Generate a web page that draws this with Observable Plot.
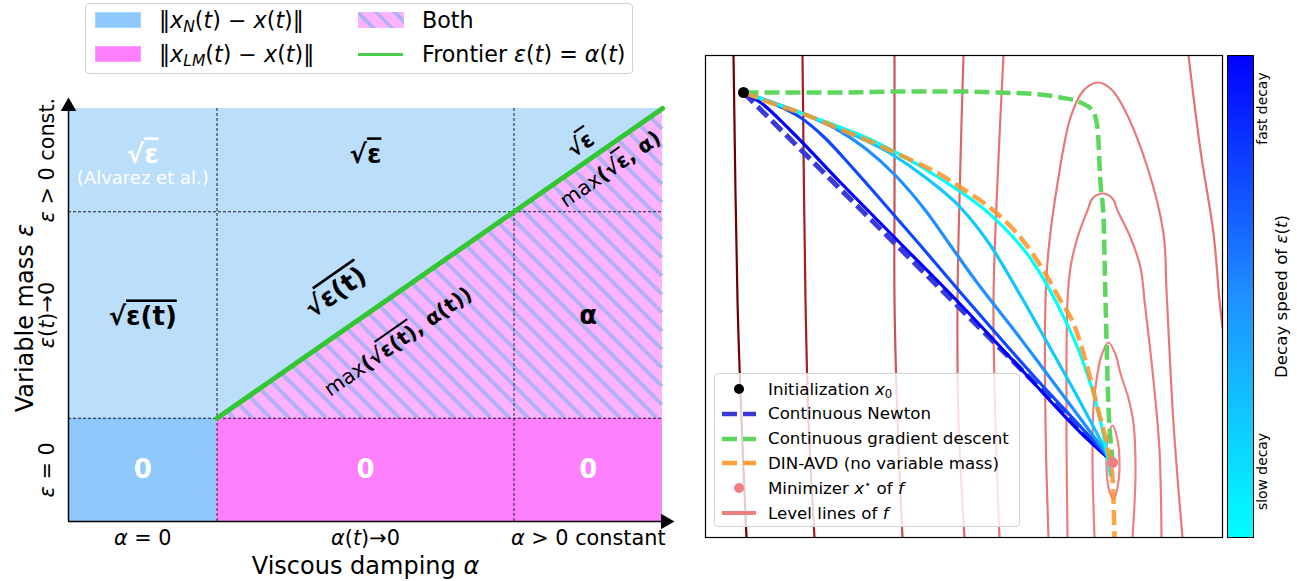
<!DOCTYPE html>
<html><head><meta charset="utf-8">
<script src="https://cdn.jsdelivr.net/npm/d3@7"></script>
<script src="https://cdn.jsdelivr.net/npm/@observablehq/plot@0.6"></script>
<style>
body{margin:0;background:#fff;font-family:"DejaVu Sans",sans-serif;}
#wrap{position:relative;width:1297px;height:581px;overflow:hidden;background:#fff;}
.abs{position:absolute;}
.leg{position:absolute;border:1px solid #d4d4d4;border-radius:4px;box-sizing:border-box;}
.row{position:absolute;display:flex;align-items:center;white-space:nowrap;color:#000;}
sub{font-size:70%;vertical-align:-0.28em;line-height:0;}
sup{font-size:70%;vertical-align:0.5em;line-height:0;}
</style></head>
<body>
<div id="wrap"></div>
<script>
// ================= LEFT PANEL DATA =================
const alphaBreaks = [0, 1, 3, 4];
const epsBreaks = [0, 1, 3, 4];
const alphaTickLabels = ["$α$ = 0", "$α$($t$)→0", "$α$ > 0 constant"];
const epsTickLabels = ["$ε$ = 0", "$ε$($t$)→0", "$ε$ > 0 const."];
const regions = [
  {name: "newton", a1: 0, a2: 4, e1: 1, e2: 4},
  {name: "newtonZero", a1: 0, a2: 1, e1: 0, e2: 1},
  {name: "lmZero", a1: 1, a2: 4, e1: 0, e2: 1}
];
const bothRegion = [{alpha: 1, lo: 1, hi: 1}, {alpha: 4, lo: 1, hi: 4}];
const frontier = [{alpha: 1, eps: 1}, {alpha: 4, eps: 4}];
const cellText = [
  {alpha: 0.5, eps: 0.5, text: "0", kind: "white"},
  {alpha: 2.0, eps: 0.5, text: "0", kind: "white"},
  {alpha: 3.5, eps: 0.5, text: "0", kind: "white"},
  {alpha: 0.5, eps: 3.55, text: "√{ε}", kind: "white"},
  {alpha: 0.5, eps: 3.32, text: "(Alvarez et al.)", kind: "note"},
  {alpha: 2.0, eps: 3.55, text: "√{ε}", kind: "black"},
  {alpha: 0.5, eps: 1.98, text: "√{ε(t)}", kind: "black"},
  {alpha: 3.5, eps: 1.99, text: "α", kind: "black"}
];
const diagText = [
  {alpha: 1.80, eps: 2.22, text: "√{ε(t)}", kind: "big"},
  {alpha: 2.22, eps: 1.74, text: "max*(√{ε(t)}, α(t))*", kind: "max"},
  {alpha: 3.45, eps: 3.65, text: "√{ε}", kind: "small"},
  {alpha: 3.65, eps: 3.41, text: "max*(√{ε}, α)*", kind: "max"}
];
const axisArrows = [{alpha: 0, eps: 4.02, dir: "up"}, {alpha: 4.02, eps: 0, dir: "right"}];

// ================= RIGHT PANEL DATA =================
const init = [[0.38, 4.45]];
const minimizer = [[4.07, 0.75]];
const levelLines = [
  [[4.07,1.12],[4.115,1.00],[4.14,0.75],[4.12,0.50],[4.08,0.38],[4.03,0.50],[4.01,0.75],[4.025,1.00]],
  [[3.89,0],[3.87,0.77],[3.88,1.30],[3.92,1.64],[3.96,1.82],[4.03,1.95],[4.10,1.83],[4.15,1.64],[4.23,1.39],[4.28,1.14],[4.30,0.64],[4.27,0]],
  [[3.62,0],[3.61,0.97],[3.61,1.77],[3.62,2.37],[3.65,2.70],[3.72,3.00],[3.82,3.27],[3.87,3.39],[3.97,3.44],[4.07,3.39],[4.12,3.27],[4.25,3.00],[4.35,2.70],[4.39,2.37],[4.48,1.57],[4.54,0.87],[4.56,0]],
  [[3.43,0],[3.40,1.14],[3.40,2.37],[3.43,2.87],[3.52,3.54],[3.65,4.20],[3.78,4.47],[3.92,4.55],[4.05,4.49],[4.18,4.30],[4.42,3.70],[4.58,3.04],[4.61,2.47],[4.68,1.14],[4.77,0]],
  [[2.98,4.82],[2.92,3.57],[2.88,2.37],[2.90,1.14],[2.94,0]],
  [[4.83,4.82],[4.95,3.87],[5.08,3.04],[5.14,2.37],[5.17,2.10]],
  [[2.58,4.82],[2.55,3.77],[2.52,2.37],[2.53,1.17],[2.59,0]],
  [[1.89,4.82],[1.89,3.37],[1.89,2.37],[1.92,1.17],[1.97,0]],
  [[0.97,4.82],[1.00,2.37],[1.03,1.17],[1.09,0]],
  [[0.28,4.82],[0.32,2.37],[0.36,1.17],[0.41,0]]
];
const newtonPath = [[0.38,4.45],[4.03,0.81]];
const gradientPath = [[0.38,4.45],[0.85,4.45],[1.33,4.45],[1.95,4.46],[2.60,4.46],[2.88,4.45],[3.22,4.44],[3.55,4.40],[3.75,4.35],[3.87,4.27],[3.92,4.10],[3.95,3.54],[3.98,3.20],[4.00,2.37],[4.03,1.30],[4.06,0.87],[4.07,0.77]];
const dinAvdPath = [[0.38,4.45],[0.67,4.34],[0.97,4.24],[1.33,4.09],[1.67,3.95],[2.00,3.80],[2.33,3.64],[2.55,3.50],[2.88,3.27],[3.15,3.00],[3.38,2.67],[3.55,2.37],[3.68,2.14],[3.82,1.70],[3.92,1.30],[4.02,0.90],[4.07,0.60],[4.09,0]];
const decaySpeeds = [1, 0.75, 0.5, 0.25, 0];
const massPaths = [
  [[0.38,4.45],[0.55,4.35],[0.85,4.07],[1.35,3.55],[1.95,2.94],[2.55,2.33],[3.15,1.69],[3.75,1.05],[4.03,0.79]],
  [[0.38,4.45],[0.70,4.33],[0.95,4.20],[1.20,3.99],[1.45,3.72],[1.75,3.38],[2.15,2.92],[2.55,2.45],[2.95,1.99],[3.35,1.54],[3.75,1.11],[4.03,0.80]],
  [[0.38,4.45],[0.97,4.24],[1.30,4.09],[1.60,3.89],[1.90,3.62],[2.20,3.27],[2.45,2.92],[2.70,2.57],[3.05,2.12],[3.45,1.59],[3.80,1.12],[4.03,0.81]],
  [[0.38,4.45],[0.97,4.24],[1.45,4.04],[1.85,3.84],[2.20,3.60],[2.55,3.30],[2.85,2.92],[3.15,2.42],[3.45,1.89],[3.75,1.35],[4.03,0.82]],
  [[0.38,4.45],[0.97,4.24],[1.67,3.97],[2.33,3.60],[2.88,3.20],[3.25,2.79],[3.55,2.27],[3.77,1.77],[3.92,1.29],[4.00,0.92],[4.05,0.62]]
];
const colorbarLabels = [{pos: 0.89, text: "fast decay"}, {pos: 0.137, text: "slow decay"}];

// ================= STYLES =================
const FONT = "DejaVu Sans";
const NS = "http://www.w3.org/2000/svg";
const regionColor = {newton: "#bbdefb", newtonZero: "#8fc8fa", lmZero: "#ff80ff"};
const bothColor = "#ffb3ff";
const hatchColor = "#b3b1f5";
const levelColors = ["#ee8585","#ec8080","#ea7c7c","#e87878","#e57373","#e57373","#dc6666","#c95252","#a21f1f","#700000"];
const decayColor = {type: "linear", domain: [0, 0.5, 1], range: ["#00ffff", "#1e90ff", "#0000ff"]};
const ROT = -34.8;

// rich text: * bold toggle, $ italic toggle, { } overline
function richify(svg) {
  d3.select(svg).selectAll("text").each(function() {
    const el = this, s = el.textContent;
    if (!/[*${}]/.test(s)) return;
    while (el.firstChild) el.removeChild(el.firstChild);
    let bold = false, ital = false, over = false, buf = "";
    const flush = () => {
      if (!buf) return;
      const t = document.createElementNS(NS, "tspan");
      if (bold) t.setAttribute("font-weight", "bold");
      if (ital) t.setAttribute("font-style", "italic");
      if (over) t.setAttribute("text-decoration", "overline");
      t.textContent = buf; el.appendChild(t); buf = "";
    };
    for (const c of s) {
      if (c === "*") { flush(); bold = !bold; }
      else if (c === "$") { flush(); ital = !ital; }
      else if (c === "{") { flush(); over = true; }
      else if (c === "}") { flush(); over = false; }
      else buf += c;
    }
    flush();
  });
}

// custom Plot mark: diagonal hatch texture inside a region given by the library's scales
function hatchMark(region, spacing, color, width) {
  return (index, scales) => {
    const poly = [
      ...region.map(d => [scales.x(d.alpha), scales.y(d.lo)]),
      ...region.slice().reverse().map(d => [scales.x(d.alpha), scales.y(d.hi)])
    ];
    const g = document.createElementNS(NS, "g");
    g.setAttribute("stroke", color); g.setAttribute("stroke-width", width);
    const cs = poly.map(([px, py]) => py - px);
    const step = spacing * Math.SQRT2;
    const cmin = Math.min(...cs), cmax = Math.max(...cs);
    for (let c = Math.ceil(cmin / step) * step; c <= cmax; c += step) {
      const hits = [];
      for (let i = 0; i < poly.length; i++) {
        const p = poly[i], q = poly[(i + 1) % poly.length];
        const fp = p[1] - p[0] - c, fq = q[1] - q[0] - c;
        if (fp === fq) continue;
        if ((fp <= 0 && fq >= 0) || (fp >= 0 && fq <= 0)) {
          const s = fp / (fp - fq);
          hits.push([p[0] + s * (q[0] - p[0]), p[1] + s * (q[1] - p[1])]);
        }
      }
      if (hits.length < 2) continue;
      hits.sort((a, b) => a[0] - b[0]);
      const a = hits[0], b = hits[hits.length - 1];
      if (Math.hypot(b[0] - a[0], b[1] - a[1]) < 1) continue;
      const l = document.createElementNS(NS, "line");
      l.setAttribute("x1", a[0]); l.setAttribute("y1", a[1]);
      l.setAttribute("x2", b[0]); l.setAttribute("y2", b[1]);
      g.appendChild(l);
    }
    return g;
  };
}

const wrap = document.getElementById("wrap");
function place(el, left, top) {
  const d = document.createElement("div");
  d.className = "abs"; d.style.left = left + "px"; d.style.top = top + "px";
  d.appendChild(el); wrap.appendChild(d); return d;
}

// ================= LEFT PLOT =================
const mids = b => b.slice(0, -1).map((v, i) => (v + b[i + 1]) / 2);
const alphaTicks = mids(alphaBreaks).map((v, i) => ({v, label: alphaTickLabels[i]}));
const epsTicks = mids(epsBreaks).map((v, i) => ({v, label: epsTickLabels[i]}));
const inner = b => b.slice(1, -1);

const left = Plot.plot({
  width: 690, height: 581,
  marginLeft: 68, marginRight: 28, marginTop: 108, marginBottom: 60,
  x: {domain: [0, 4], axis: null},
  y: {domain: [0, 4], axis: null},
  style: {fontFamily: FONT, background: "transparent", overflow: "visible", color: "#000"},
  marks: [
    Plot.rect(regions.filter(r => r.name === "newton"), {x1: "a1", x2: "a2", y1: "e1", y2: "e2", fill: regionColor.newton}),
    Plot.areaY(bothRegion, {x: "alpha", y1: "lo", y2: "hi", fill: bothColor}),
    hatchMark(bothRegion, 13, hatchColor, 4),
    Plot.rect(regions.filter(r => r.name === "newtonZero"), {x1: "a1", x2: "a2", y1: "e1", y2: "e2", fill: regionColor.newtonZero}),
    Plot.rect(regions.filter(r => r.name === "lmZero"), {x1: "a1", x2: "a2", y1: "e1", y2: "e2", fill: regionColor.lmZero}),
    Plot.ruleX(inner(alphaBreaks), {y1: 0, y2: 4, stroke: "#1c1c34", strokeWidth: 1, strokeDasharray: "3,2"}),
    Plot.ruleY(inner(epsBreaks), {x1: 0, x2: 4, stroke: "#1c1c34", strokeWidth: 1, strokeDasharray: "3,2"}),
    Plot.line(frontier, {x: "alpha", y: "eps", stroke: "#33c633", strokeWidth: 5}),
    Plot.text(cellText.filter(d => d.kind === "white"), {x: "alpha", y: "eps", text: "text", fill: "#fff", fontSize: 26, fontWeight: "bold"}),
    Plot.text(cellText.filter(d => d.kind === "note"), {x: "alpha", y: "eps", text: "text", fill: "#fff", fontSize: 18}),
    Plot.text(cellText.filter(d => d.kind === "black"), {x: "alpha", y: "eps", text: "text", fill: "#000", fontSize: 26, fontWeight: "bold"}),
    Plot.text(diagText.filter(d => d.kind === "big"), {x: "alpha", y: "eps", text: "text", rotate: ROT, fontSize: 26, fontWeight: "bold"}),
    Plot.text(diagText.filter(d => d.kind === "small"), {x: "alpha", y: "eps", text: "text", rotate: ROT, fontSize: 22, fontWeight: "bold"}),
    Plot.text(diagText.filter(d => d.kind === "max"), {x: "alpha", y: "eps", text: "text", rotate: ROT, fontSize: 20.5}),
    Plot.text(alphaTicks, {x: "v", y: 0, text: "label", dy: 17, fontSize: 20.8}),
    Plot.text(epsTicks, {x: 0, y: "v", text: "label", rotate: -90, dx: -21, fontSize: 20.8}),
    Plot.text(["Viscous damping $α$"], {frameAnchor: "bottom", text: d => d, dy: 45, lineAnchor: "middle", textAnchor: "middle", fontSize: 24}),
    Plot.text(["Variable mass $ε$"], {frameAnchor: "left", text: d => d, rotate: -90, dx: -43, dy: 3, textAnchor: "middle", lineAnchor: "middle", fontSize: 24}),
    Plot.ruleX([0], {y1: 0, y2: 4.0, stroke: "#000", strokeWidth: 1.5}),
    Plot.ruleY([0], {x1: 0, x2: 4.0, stroke: "#000", strokeWidth: 1.5}),
    Plot.dot(axisArrows.filter(d => d.dir === "up"), {x: "alpha", y: "eps", symbol: "triangle", r: 5.8, fill: "#000"}),
    Plot.dot(axisArrows.filter(d => d.dir === "right"), {x: "alpha", y: "eps", symbol: "triangle", r: 5.8, fill: "#000", rotate: 90})
  ]
});
richify(left);
place(left, 0, 0);

// left legend
{
  const L = document.createElement("div");
  L.className = "leg";
  Object.assign(L.style, {left: "85px", top: "3px", width: "548px", height: "71px", background: "#fff", fontSize: "22.2px"});
  const rows = [
    {x: 9, y: 16, sw: "background:#8fc8fa;border:1px solid #a9d4fb", html: "‖<i>x</i><sub><i>N</i></sub>(<i>t</i>) − <i>x</i>(<i>t</i>)‖"},
    {x: 9, y: 50, sw: "background:#ff80ff;border:1px solid #ff9cff", html: "‖<i>x</i><sub><i>LM</i></sub>(<i>t</i>) − <i>x</i>(<i>t</i>)‖"},
    {x: 272, y: 16, sw: `background:repeating-linear-gradient(45deg,${bothColor} 0 9px,${hatchColor} 9px 13px)`, html: "Both"},
    {x: 272, y: 50, line: true, html: "Frontier <i>ε</i>(<i>t</i>) = <i>α</i>(<i>t</i>)"}
  ];
  for (const r of rows) {
    const d = document.createElement("div");
    d.className = "row"; d.style.left = r.x + "px"; d.style.top = (r.y - 16) + "px"; d.style.height = "32px";
    const sw = r.line
      ? `<span style="display:inline-block;width:45px;height:3px;background:#4ccc4c;margin-right:19px"></span>`
      : `<span style="display:inline-block;box-sizing:border-box;width:46px;height:16px;${r.sw};margin-right:18px"></span>`;
    d.innerHTML = sw + `<span>${r.html}</span>`;
    L.appendChild(d);
  }
  wrap.appendChild(L);
}

// ================= RIGHT PLOT =================
const massRows = massPaths.flatMap((p, i) => p.map(([x, y]) => ({x, y, decay: decaySpeeds[i]})));
const right = Plot.plot({
  width: 535, height: 581,
  marginLeft: 15, marginRight: 3, marginTop: 55, marginBottom: 44,
  x: {domain: [0, 5.17], axis: null},
  y: {domain: [0, 4.82], axis: null},
  color: decayColor,
  style: {fontFamily: FONT, background: "transparent"},
  marks: [
    ...levelLines.map((pts, i) => Plot.line(pts, {
      stroke: levelColors[i], strokeWidth: 2.2, clip: true,
      curve: i === 0 ? "catmull-rom-closed" : "catmull-rom"
    })),
    Plot.line(newtonPath, {stroke: "#3a3ad6", strokeWidth: 5, strokeDasharray: "14,6", strokeLinecap: "butt"}),
    Plot.line(massRows, {x: "x", y: "y", z: "decay", stroke: "decay", strokeWidth: 3.2, curve: "monotone-x"}),
    Plot.line(gradientPath, {stroke: "#5cd65c", strokeWidth: 4.5, strokeDasharray: "15,6", strokeLinecap: "butt", curve: "monotone-x"}),
    Plot.line(dinAvdPath, {stroke: "#ff9426", strokeOpacity: 0.85, strokeWidth: 4.5, strokeDasharray: "15,6", strokeLinecap: "butt", curve: "monotone-x", clip: true}),
    Plot.dot(init, {r: 5.5, fill: "#000"}),
    Plot.dot(minimizer, {r: 5.5, fill: "#f08080"}),
    Plot.frame({stroke: "#000", strokeWidth: 1.2})
  ]
});
place(right, 690, 0);

// right legend
{
  const L = document.createElement("div");
  L.className = "leg";
  Object.assign(L.style, {left: "714px", top: "373px", width: "306px", height: "154px", background: "rgba(255,255,255,0.8)", fontSize: "16.67px"});
  const icons = {
    dot: c => `<circle cx="19" cy="12" r="5" fill="${c}"/>`,
    dash: c => `<line x1="2" x2="36" y1="12" y2="12" stroke="${c}" stroke-width="4.5" stroke-dasharray="15,6"/>`,
    line: c => `<line x1="2" x2="36" y1="12" y2="12" stroke="${c}" stroke-width="4"/>`
  };
  const rows = [
    {icon: "dot", c: "#000", html: "Initialization <i>x</i><sub>0</sub>"},
    {icon: "dash", c: "#3a3ad6", html: "Continuous Newton"},
    {icon: "dash", c: "#5cd65c", html: "Continuous gradient descent"},
    {icon: "dash", c: "#ff9f38", html: "DIN-AVD (no variable mass)"},
    {icon: "dot", c: "#f08080", html: "Minimizer <i>x</i><sup>⋆</sup> of <i>f</i>"},
    {icon: "line", c: "#f08080", html: "Level lines of <i>f</i>"}
  ];
  rows.forEach((r, i) => {
    const d = document.createElement("div");
    d.className = "row"; d.style.left = "5px"; d.style.top = (15 + i * 24.8 - 12) + "px"; d.style.height = "24px";
    d.innerHTML = `<svg width="38" height="24" style="margin-right:10px">${icons[r.icon](r.c)}</svg><span>${r.html}</span>`;
    L.appendChild(d);
  });
  wrap.appendChild(L);
}

// ================= COLORBAR =================
const cbSteps = d3.range(0, 1, 0.005);
const cbar = Plot.plot({
  width: 71, height: 581,
  marginLeft: 1, marginRight: 44, marginTop: 55, marginBottom: 44,
  x: {domain: [0, 1], axis: null},
  y: {domain: [0, 1], axis: null},
  color: decayColor,
  style: {fontFamily: FONT, background: "transparent", overflow: "visible"},
  marks: [
    Plot.rect(cbSteps, {x1: 0, x2: 1, y1: d => d, y2: d => d + 0.0056, fill: d => d + 0.0025, shapeRendering: "crispEdges"}),
    Plot.frame({stroke: "#000", strokeWidth: 1}),
    Plot.text(colorbarLabels, {x: 1, y: "pos", text: "text", rotate: -90, dx: 9, fontSize: 13.9}),
    Plot.text(["Decay speed of $ε$($t$)"], {x: 1, y: 0.5, text: d => d, rotate: -90, dx: 28, fontSize: 16.67})
  ]
});
richify(cbar);
place(cbar, 1226, 0);
</script></body></html>
